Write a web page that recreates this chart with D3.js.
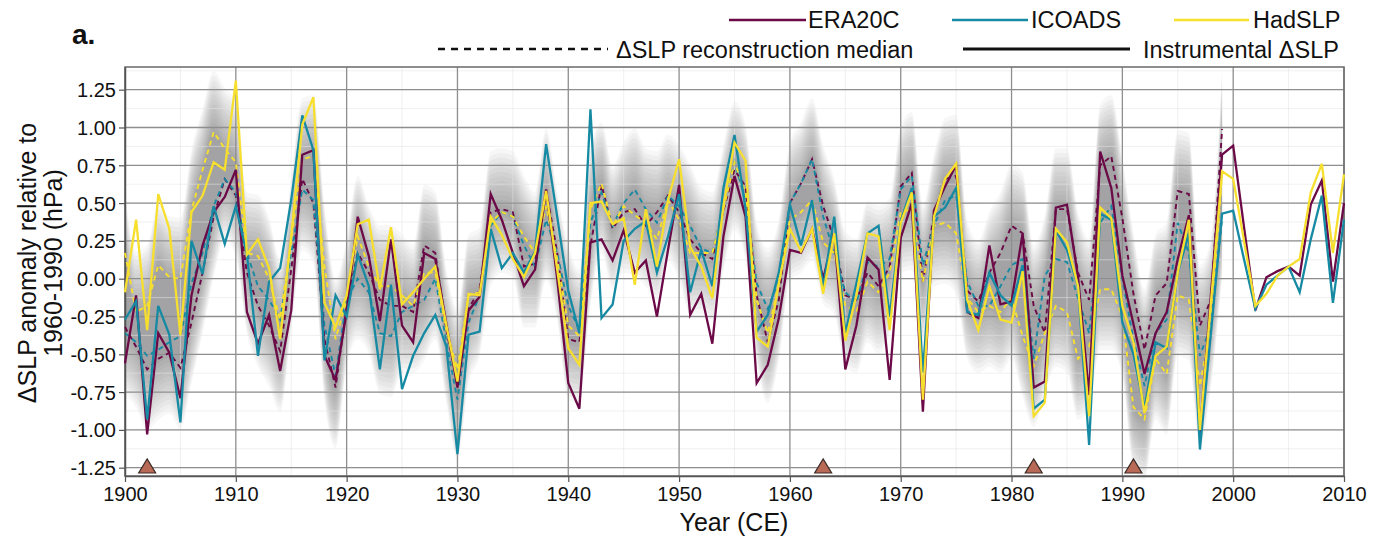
<!DOCTYPE html>
<html><head><meta charset="utf-8">
<script src="https://cdn.jsdelivr.net/npm/d3@7"></script>
<style>
html,body{margin:0;padding:0;background:#fff;}
svg{display:block;font-family:"Liberation Sans",Arial,sans-serif;}
</style></head>
<body><svg id="chart" width="1386" height="539"></svg>
<script>
// ---------- data ----------
const instYears = d3.range(1900, 2011);   // 1900..2010 (instrumental)
const reconYears = d3.range(1900, 2000);  // 1900..1999 (reconstruction)

const instERA20C = [
-0.56,-0.11,-1.03,-0.36,-0.49,-0.79,-0.11,0.22,0.44,0.54,
0.72,-0.22,-0.43,-0.24,-0.61,-0.21,0.82,0.85,-0.51,-0.67,
-0.22,0.41,0.15,-0.28,0.26,-0.31,-0.42,0.17,0.13,-0.30,
-0.72,-0.21,-0.12,0.56,0.39,0.17,-0.05,0.06,0.59,0.00,
-0.69,-0.86,0.24,0.26,0.12,0.32,0.04,0.12,-0.25,0.19,
0.62,-0.24,-0.10,-0.43,0.28,0.68,0.41,-0.69,-0.57,-0.26,
0.19,0.17,0.33,0.00,0.30,-0.60,-0.31,0.14,0.06,-0.67,
0.27,0.50,-0.88,0.45,0.61,0.75,-0.22,-0.26,0.22,-0.17,
-0.15,0.30,-0.72,-0.68,0.47,0.49,0.01,-0.77,0.84,0.60,
0.02,-0.30,-0.63,-0.36,-0.22,0.13,0.42,-1.02,-0.10,0.82,
0.88,0.33,-0.21,0.01,0.05,0.08,0.02,0.49,0.65,-0.02,
0.50];
const instICOADS = [
-0.27,-0.15,-0.93,-0.18,-0.37,-0.95,0.25,0.03,0.48,0.23,
0.48,0.16,-0.51,-0.02,0.07,0.52,1.08,0.85,-0.54,-0.11,
-0.25,0.16,-0.05,-0.60,-0.04,-0.73,-0.51,-0.36,-0.24,-0.45,
-1.16,-0.37,-0.35,0.33,0.07,0.17,0.04,0.18,0.89,0.41,
-0.08,-0.36,1.12,-0.26,-0.17,0.25,0.33,0.38,0.04,0.28,
0.56,-0.09,0.19,-0.05,0.60,0.95,0.46,-0.35,-0.24,0.04,
0.49,0.22,0.52,-0.06,0.41,-0.36,-0.03,0.30,0.35,-0.25,
0.38,0.60,-0.62,0.41,0.47,0.60,-0.22,-0.24,0.04,-0.11,
-0.18,0.09,-0.86,-0.80,0.32,0.19,-0.05,-1.10,0.43,0.39,
-0.29,-0.50,-0.86,-0.42,-0.46,0.04,0.30,-1.13,-0.35,0.43,
0.45,0.12,-0.20,-0.04,0.02,0.08,-0.09,0.26,0.55,-0.16,
0.39];
const instHadSLP = [
-0.09,0.39,-0.34,0.56,0.33,-0.375,0.44,0.55,0.77,0.72,
1.31,0.16,0.26,0.07,-0.40,0.28,1.02,1.20,-0.16,-0.32,
-0.11,0.36,0.39,-0.07,0.34,-0.17,-0.09,0.00,0.08,-0.31,
-0.68,-0.10,-0.11,0.41,0.29,0.13,0.01,0.17,0.58,0.06,
-0.46,-0.57,0.50,0.51,0.36,0.40,-0.04,0.46,0.08,0.52,
0.79,0.21,0.08,-0.13,0.48,0.90,0.78,-0.39,-0.45,-0.03,
0.33,0.18,0.33,-0.10,0.30,-0.41,-0.11,0.30,0.28,-0.34,
0.37,0.57,-0.80,0.41,0.66,0.76,-0.14,-0.34,-0.05,-0.27,
-0.29,0.05,-0.91,-0.82,0.33,0.24,-0.05,-0.91,0.47,0.40,
-0.18,-0.42,-0.89,-0.51,-0.45,0.04,0.39,-1.00,-0.15,0.71,
0.66,0.24,-0.18,-0.10,0.02,0.08,0.13,0.57,0.76,0.17,
0.69];

const reconERA20C = [
-0.32,-0.45,-0.60,-0.53,-0.49,-0.59,-0.29,0.04,0.41,0.66,
0.55,0.04,-0.18,-0.31,-0.48,0.06,0.66,0.50,-0.40,-0.72,
-0.18,0.17,0.04,-0.14,-0.18,-0.18,-0.22,0.22,0.17,-0.34,
-0.69,-0.20,-0.07,0.44,0.46,0.44,0.08,0.10,0.59,0.17,
-0.40,-0.42,0.22,0.62,0.33,0.44,0.46,0.35,0.44,0.55,
0.44,0.26,0.17,0.13,0.45,0.72,0.61,-0.11,-0.42,-0.14,
0.50,0.63,0.79,0.48,0.26,-0.11,-0.14,0.04,-0.05,0.08,
0.61,0.70,-0.02,0.42,0.66,0.68,-0.08,-0.15,0.04,0.17,
0.35,0.30,-0.18,-0.36,0.46,0.46,0.04,-0.14,0.75,0.81,
0.40,-0.10,-0.47,-0.11,-0.03,0.58,0.56,-0.31,-0.14,0.99];
const reconICOADS = [
-0.36,-0.42,-0.51,-0.47,-0.42,-0.38,-0.03,0.17,0.48,0.66,
0.57,0.17,-0.05,-0.14,-0.27,0.17,0.59,0.52,-0.31,-0.64,
-0.14,0.00,-0.09,-0.36,-0.38,-0.22,-0.18,-0.14,0.00,-0.42,
-0.80,-0.29,-0.11,0.35,0.44,0.41,0.22,0.08,0.39,0.17,
-0.18,-0.34,0.37,0.57,0.35,0.50,0.59,0.46,0.37,0.55,
0.48,0.35,0.20,0.17,0.48,0.77,0.52,-0.03,-0.20,-0.01,
0.50,0.63,0.79,0.41,0.17,-0.09,-0.16,0.11,0.08,0.13,
0.59,0.68,0.09,0.35,0.52,0.55,-0.02,-0.18,-0.18,-0.05,
0.09,0.13,-0.53,0.02,0.13,0.11,-0.13,-0.36,0.37,0.48,
0.00,-0.40,-0.71,-0.36,-0.27,0.37,0.17,-0.51,-0.31,0.40];
const reconHadSLP = [
0.17,-0.22,-0.18,0.09,0.01,0.00,0.45,0.72,0.97,0.86,
0.77,0.17,0.15,0.00,-0.27,0.26,0.79,0.81,0.08,-0.40,
-0.14,0.28,0.08,-0.05,-0.05,-0.11,-0.18,0.04,0.04,-0.34,
-0.60,-0.11,-0.09,0.37,0.44,0.41,0.28,0.17,0.48,0.13,
-0.31,-0.38,0.46,0.63,0.35,0.48,0.42,0.37,0.26,0.52,
0.39,0.17,0.17,0.17,0.46,0.77,0.57,-0.14,-0.36,-0.03,
0.39,0.44,0.52,0.24,0.17,-0.18,-0.22,-0.02,-0.09,0.04,
0.44,0.46,-0.02,0.35,0.37,0.30,-0.13,-0.22,-0.18,-0.22,
-0.13,-0.38,-0.58,-0.36,-0.18,-0.22,-0.53,-0.45,-0.07,-0.07,
-0.25,-0.85,-0.93,-0.53,-0.63,-0.11,-0.14,-0.71,-0.30,0.70];

const eruptionYears = [1902, 1963, 1982, 1991];

const yTickValues = [-1.25,-1.0,-0.75,-0.5,-0.25,0,0.25,0.5,0.75,1.0,1.25];
const xTickValues = [1900,1910,1920,1930,1940,1950,1960,1970,1980,1990,2000,2010];

const seriesNames = ["ERA20C","ICOADS","HadSLP"];
const seriesColors = ["#6b0a47","#168aa3","#f7df2e"];

// ---------- layout ----------
const svg = d3.select("#chart");
const L = 125, R = 1344, T = 67, B = 476;
const x = d3.scaleLinear().domain([1900, 2010]).range([L, R]);
const y = d3.scaleLinear().domain([-1.305, 1.40]).range([B, T]);
const hyphenLocale = d3.formatLocale({decimal: ".", thousands: ",", grouping: [3], currency: ["", ""], minus: "-"});

// minor grid
const g = svg.append("g");
g.selectAll("line.mh").data(d3.range(-1.25, 1.38, 0.125)).enter().append("line")
  .attr("class", "mh")
  .attr("x1", L).attr("x2", R).attr("y1", d => y(d)).attr("y2", d => y(d))
  .attr("stroke", "#e3e3e6").attr("stroke-width", 1);
g.selectAll("line.mv").data(d3.range(1905, 2010, 10)).enter().append("line")
  .attr("class", "mv")
  .attr("y1", T).attr("y2", B).attr("x1", d => x(d)).attr("x2", d => x(d))
  .attr("stroke", "#e3e3e6").attr("stroke-width", 1);

// uncertainty shading built from reconstruction spread
const bandData = reconYears.map((yr, i) => {
  const vals = [reconERA20C[i], reconICOADS[i], reconHadSLP[i]];
  return {yr, lo: d3.min(vals), hi: d3.max(vals)};
});
const margins = d3.range(0, 14).map(k => k * 0.031);
const bandG = svg.append("g");
margins.forEach((m, k) => {
  bandG.append("path")
    .datum(bandData)
    .attr("d", d3.area().x(d => x(d.yr)).y0(d => y(d.lo - m)).y1(d => y(d.hi + m)).curve(d3.curveMonotoneX))
    .attr("fill", "#5a5a66").attr("fill-opacity", k < 3 ? 0.07 : 0.05);
});

// grid drawn over the shading
g.raise();
g.selectAll("line.mh, line.mv").attr("stroke-opacity", 0.55);
g.selectAll("line.Mh").data(yTickValues).enter().append("line")
  .attr("class", "Mh")
  .attr("x1", L).attr("x2", R).attr("y1", d => y(d)).attr("y2", d => y(d))
  .attr("stroke", "#8e8e8e").attr("stroke-width", 1.3);
g.selectAll("line.Mv").data(xTickValues).enter().append("line")
  .attr("class", "Mv")
  .attr("y1", T).attr("y2", B).attr("x1", d => x(d)).attr("x2", d => x(d))
  .attr("stroke", "#8e8e8e").attr("stroke-width", 1.3);

// frame
svg.append("rect").attr("x", L).attr("y", T).attr("width", R - L).attr("height", B - T)
  .attr("fill", "none").attr("stroke", "#6a6a6a").attr("stroke-width", 1.5);

const yAxis = svg.append("g").attr("transform", `translate(${L},0)`)
  .call(d3.axisLeft(y).tickValues(yTickValues).tickFormat(hyphenLocale.format(".2f")).tickSize(6).tickSizeOuter(0));
const xAxis = svg.append("g").attr("transform", `translate(0,${B})`)
  .call(d3.axisBottom(x).tickValues(xTickValues).tickFormat(d3.format("d")).tickSize(6).tickSizeOuter(0));
[yAxis, xAxis].forEach(a => {
  a.select(".domain").attr("stroke", "#555").attr("stroke-width", 1.5);
  a.selectAll(".tick line").attr("stroke", "#555").attr("stroke-width", 1.2);
  a.selectAll("text").attr("fill", "#111").style("font-size", "20px").style("font-family", "Liberation Sans, Arial, sans-serif");
});
yAxis.selectAll("text").attr("x", -9).attr("dy", "0.35em");
xAxis.selectAll("text").attr("y", 10).attr("dy", "0.75em");

// reconstruction medians (dashed)
const recon = [reconERA20C, reconICOADS, reconHadSLP];
const inst = [instERA20C, instICOADS, instHadSLP];
recon.forEach((arr, s) => {
  svg.append("path").datum(arr)
    .attr("d", d3.line().x((d, i) => x(reconYears[i])).y(d => y(d)))
    .attr("fill", "none").attr("stroke", seriesColors[s]).attr("stroke-width", 1.9)
    .attr("stroke-dasharray", "5,4");
});
// instrumental (solid)
inst.forEach((arr, s) => {
  svg.append("path").datum(arr)
    .attr("d", d3.line().x((d, i) => x(instYears[i])).y(d => y(d)))
    .attr("fill", "none").attr("stroke", seriesColors[s]).attr("stroke-width", 2.3)
    .attr("stroke-linejoin", "miter");
});

// eruption triangles
svg.selectAll("path.tri").data(eruptionYears).enter().append("path")
  .attr("d", d => {
    const cx = x(d), yb = y(-1.285), yt = y(-1.192);
    return `M${cx - 8.5},${yb}L${cx + 8.5},${yb}L${cx},${yt}Z`;
  })
  .attr("fill", "#b86a57").attr("stroke", "#3a2a25").attr("stroke-width", 1.2);

// titles
svg.append("text").attr("x", 72).attr("y", 44).text("a.")
  .style("font-size", "28px").style("font-weight", "bold").attr("fill", "#111");
const yt = svg.append("text").attr("transform", "translate(0,263) rotate(-90)")
  .attr("text-anchor", "middle").style("font-size", "25px").attr("fill", "#111");
yt.append("tspan").attr("x", 0).attr("y", 36).text("ΔSLP anomaly relative to");
yt.append("tspan").attr("x", 0).attr("y", 62).text("1960-1990 (hPa)");
svg.append("text").attr("x", 734).attr("y", 531).attr("text-anchor", "middle")
  .style("font-size", "25px").attr("fill", "#111").text("Year (CE)");

// legend
const leg = svg.append("g").style("font-size", "23.5px").attr("fill", "#111");
const row1 = [{x1: 729, x2: 806, tx: 808}, {x1: 952, x2: 1028, tx: 1031}, {x1: 1174, x2: 1249, tx: 1253}];
row1.forEach((p, i) => {
  leg.append("line").attr("x1", p.x1).attr("x2", p.x2).attr("y1", 20).attr("y2", 20)
    .attr("stroke", seriesColors[i]).attr("stroke-width", 2.5);
  leg.append("text").attr("x", p.tx).attr("y", 28).text(seriesNames[i]);
});
leg.append("line").attr("x1", 438).attr("x2", 608).attr("y1", 49).attr("y2", 49)
  .attr("stroke", "#111").attr("stroke-width", 2.5).attr("stroke-dasharray", "7,6");
leg.append("text").attr("x", 616).attr("y", 58).text("ΔSLP reconstruction median");
leg.append("line").attr("x1", 963).attr("x2", 1130).attr("y1", 49).attr("y2", 49)
  .attr("stroke", "#111").attr("stroke-width", 2.8);
leg.append("text").attr("x", 1143).attr("y", 58).text("Instrumental ΔSLP");
</script></body></html>
